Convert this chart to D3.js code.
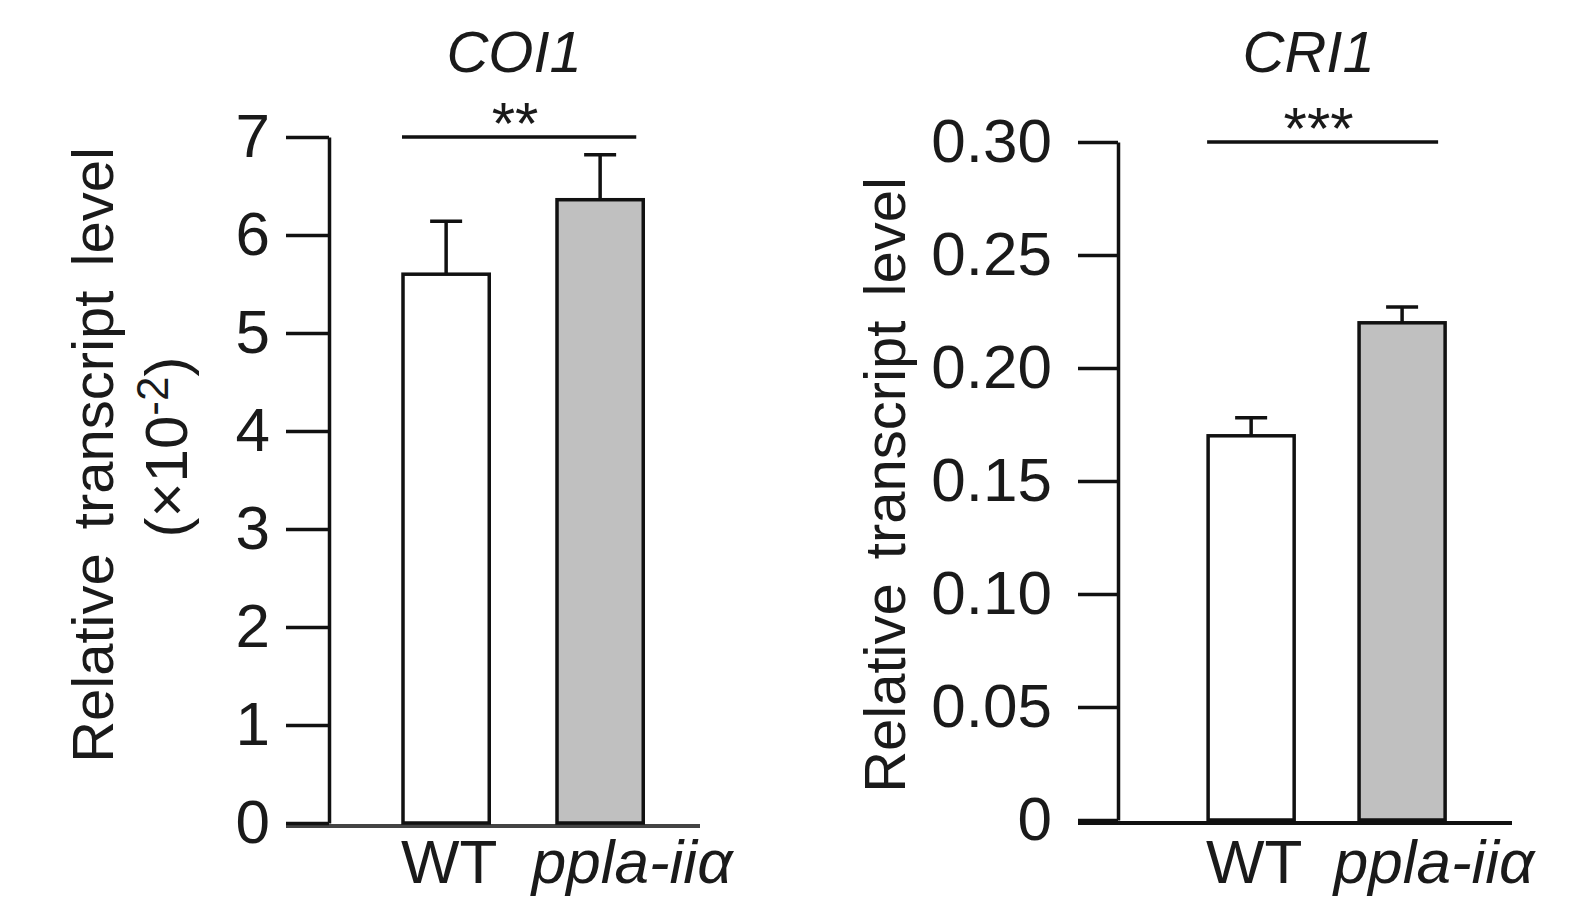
<!DOCTYPE html>
<html lang="en">
<head>
    <meta charset="UTF-8">
    <title>COI1 / CRI1 transcript</title>
    <script src="https://cdn.jsdelivr.net/npm/d3@7/dist/d3.min.js"></script>
    <style>
        body { margin: 0; background: #fff; }
        text { font-family: "Liberation Sans", Arial, sans-serif; fill: #1a1a1a; }
    </style>
</head>
<body>
    <svg width="1569" height="911" id="mainsvg"></svg>

    <script>
        // data
        const groups = ['WT', 'ppla-iiα'];
        const barFills = ['#ffffff', '#c0c0c0'];

        const coi1Mean = [5.6, 6.36];
        const coi1Err = [0.54, 0.46];
        const coi1Ticks = [0, 1, 2, 3, 4, 5, 6, 7];

        const cri1Mean = [0.17, 0.22];
        const cri1Err = [0.008, 0.007];
        const cri1Ticks = [0, 0.05, 0.10, 0.15, 0.20, 0.25, 0.30];

        const titles = ['COI1', 'CRI1'];
        const stars = ['**', '***'];

        const svg = d3.select('svg');

        const panels = [
            {title: titles[0], star: stars[0], mean: coi1Mean, err: coi1Err, ticks: coi1Ticks,
             fmt: d3.format('d'), yMax: 7,
             x0: 329, x1: 700, yTop: 137, yBottom: 823, tickLen: 43, pad: 16,
             pi: 0.44, po: 0.4245, align: 0.566, baseColor: '#444',
             labelX: 113, labelY: 455, titleDx: -5, unit: true},
            {title: titles[1], star: stars[1], mean: cri1Mean, err: cri1Err, ticks: cri1Ticks,
             fmt: d => d === 0 ? '0' : d3.format('.2f')(d), yMax: 0.30,
             x0: 1118, x1: 1512, yTop: 142, yBottom: 820, tickLen: 40, pad: 26,
             pi: 0.43, po: 0.52, align: 0.574, baseColor: '#111',
             labelX: 905, labelY: 485, titleDx: -14, unit: false}
        ];

        panels.forEach(p => {
            const g = svg.append('g');

            const y = d3.scaleLinear().domain([0, p.yMax]).range([p.yBottom, p.yTop]);
            const x = d3.scaleBand().domain(groups).range([p.x0, p.x1])
                .paddingInner(p.pi).paddingOuter(p.po).align(p.align);

            // x baseline
            g.append('line')
                .attr('x1', p.x0 - p.tickLen).attr('x2', p.x1)
                .attr('y1', p.yBottom + 3).attr('y2', p.yBottom + 3)
                .attr('stroke', p.baseColor).attr('stroke-width', 4);

            // y axis
            const yAxis = d3.axisLeft(y).tickValues(p.ticks).tickFormat(p.fmt)
                .tickSize(p.tickLen).tickSizeOuter(0).tickPadding(p.pad);
            const ag = g.append('g').attr('transform', `translate(${p.x0},0)`).call(yAxis);
            ag.select('.domain').attr('stroke', '#111').attr('stroke-width', 3.5);
            ag.selectAll('.tick line').attr('stroke', '#111').attr('stroke-width', 3.5);
            ag.selectAll('.tick text')
                .attr('font-size', '62px')
                .attr('font-family', '"Liberation Sans", Arial, sans-serif')
                .attr('fill', '#1a1a1a');

            // bars
            g.selectAll('.bar').data(groups).enter().append('rect')
                .attr('class', 'bar')
                .attr('x', d => x(d))
                .attr('width', x.bandwidth())
                .attr('y', (d, i) => y(p.mean[i]))
                .attr('height', (d, i) => y(0) - y(p.mean[i]))
                .attr('fill', (d, i) => barFills[i])
                .attr('stroke', '#111').attr('stroke-width', 3.5);

            // error bars (upper only)
            const eb = g.selectAll('.err').data(groups).enter().append('g').attr('class', 'err');
            eb.append('line')
                .attr('x1', d => x(d) + x.bandwidth() / 2).attr('x2', d => x(d) + x.bandwidth() / 2)
                .attr('y1', (d, i) => y(p.mean[i])).attr('y2', (d, i) => y(p.mean[i] + p.err[i]))
                .attr('stroke', '#111').attr('stroke-width', 3.5);
            eb.append('line')
                .attr('x1', d => x(d) + x.bandwidth() / 2 - 16).attr('x2', d => x(d) + x.bandwidth() / 2 + 16)
                .attr('y1', (d, i) => y(p.mean[i] + p.err[i])).attr('y2', (d, i) => y(p.mean[i] + p.err[i]))
                .attr('stroke', '#111').attr('stroke-width', 3.5);

            // significance bracket
            const sx1 = x(groups[0]) - 1;
            const sx2 = x(groups[1]) + x.bandwidth() - 7;
            const sy = y(p.yMax);
            g.append('line')
                .attr('x1', sx1).attr('x2', sx2).attr('y1', sy).attr('y2', sy)
                .attr('stroke', '#111').attr('stroke-width', 3.5);
            g.append('text')
                .attr('x', (sx1 + sx2) / 2 - 4).attr('y', sy + 7)
                .attr('text-anchor', 'middle').attr('font-size', '60px')
                .text(p.star);

            // gene title
            g.append('text')
                .attr('x', (sx1 + sx2) / 2 + p.titleDx).attr('y', 72)
                .attr('text-anchor', 'middle').attr('font-size', '58px')
                .attr('font-style', 'italic')
                .text(p.title);

            // category labels
            g.selectAll('.cat').data(groups).enter().append('text')
                .attr('class', 'cat')
                .attr('x', (d, i) => x(d) + x.bandwidth() / 2 + (i ? 32 : 3))
                .attr('y', 883)
                .attr('text-anchor', 'middle').attr('font-size', '62px')
                .attr('font-style', (d, i) => i ? 'italic' : 'normal')
                .text(d => d);

            // y label
            g.append('text')
                .attr('transform', `translate(${p.labelX},${p.labelY}) rotate(-90)`)
                .attr('text-anchor', 'middle').attr('font-size', '58px')
                .attr('word-spacing', '8px')
                .text('Relative transcript level');

            if (p.unit) {
                const u = g.append('text')
                    .attr('transform', `translate(187,447) rotate(-90)`)
                    .attr('text-anchor', 'middle').attr('font-size', '60px');
                u.append('tspan').text('(×10');
                u.append('tspan').attr('font-size', '44px').attr('dy', -19).text('-2');
                u.append('tspan').attr('dy', 19).text(')');
            }
        });
    </script>
</body>
</html>
